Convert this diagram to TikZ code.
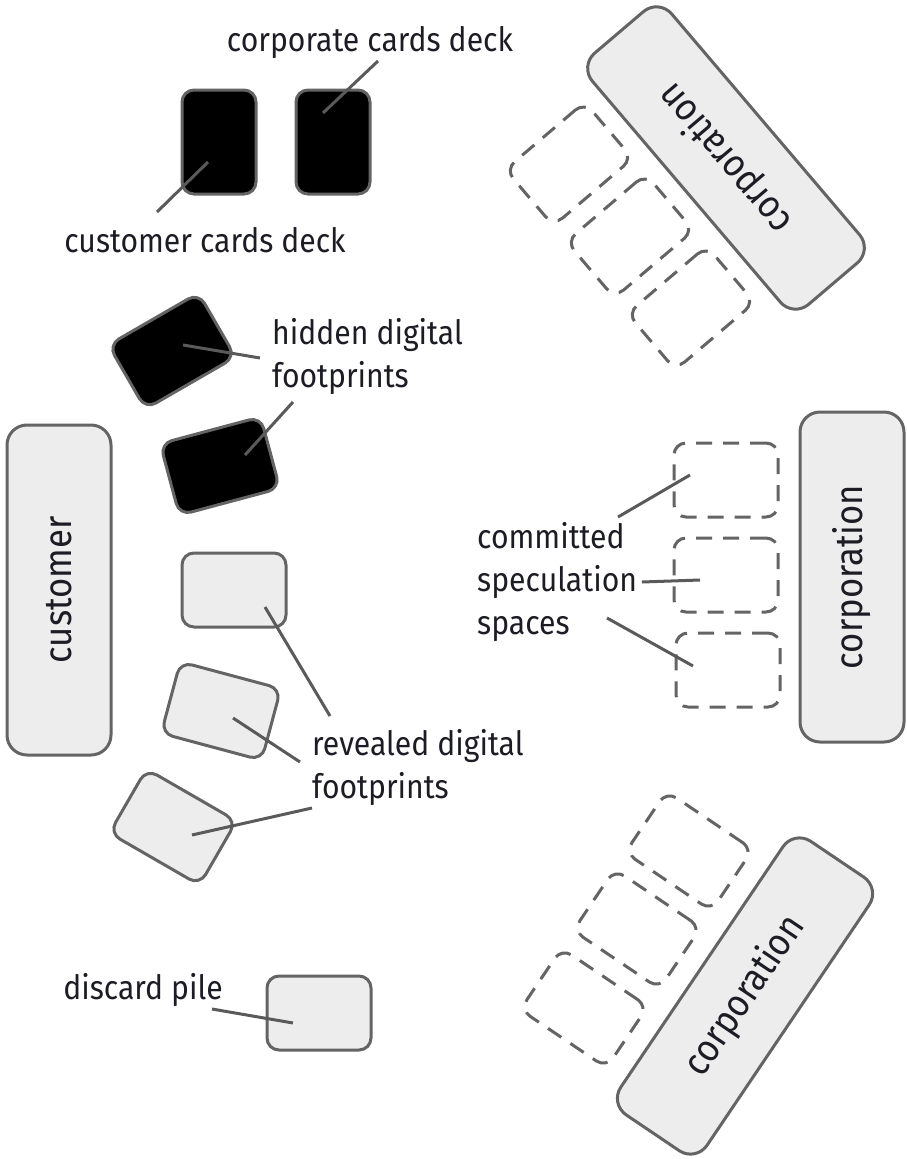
\documentclass[tikz,border=0pt]{standalone}
\usepackage{fontspec}
\setmainfont{Fira Sans}[FakeStretch=0.9]
\usetikzlibrary{calc}
\definecolor{edge}{HTML}{646464}
\definecolor{panel}{HTML}{EDEDED}
\definecolor{ink}{HTML}{1C1C24}
\definecolor{leadc}{HTML}{5A5A5A}
\begin{document}
\begin{tikzpicture}[x=1pt,y=-1pt,
  font=\fontsize{33.5}{43}\selectfont, text=ink,
  player/.style={draw=edge, fill=panel, line width=3pt, rounded corners=20pt,
    minimum width=330pt, minimum height=104pt, inner sep=0pt,
    font=\fontsize{38.5}{46}\selectfont},
  cardbase/.style={line width=3pt, rounded corners=12pt,
    minimum width=104pt, minimum height=74pt, inner sep=0pt},
  facedown/.style={cardbase, draw=edge, fill=black},
  faceup/.style={cardbase, draw=edge, fill=panel},
  slot/.style={cardbase, draw=edge, dash pattern=on 16pt off 11pt},
  leader/.style={draw=leadc, line width=3pt},
  caption/.style={inner sep=0pt, align=left}]
\useasboundingbox (0,0) rectangle (907,1159);

% players
\node[player, rotate=90] (customer) at (59,590) {customer};
\node[player, rotate=130.4] (corpA) at (726,158) {corporation};
\node[player, rotate=90] (corpB) at (852,577) {corporation};
\node[player, rotate=56] (corpC) at (745,996) {corporation};

% draw decks
\node[facedown, rotate=90] (custdeck) at (219,142) {};
\node[facedown, rotate=90] (corpdeck) at (333,142) {};

% customer's footprints, laid out on an arc
\node[facedown, rotate=30] (hid1) at (172,351) {};
\node[facedown, rotate=15] (hid2) at (220,466) {};
\node[faceup] (rev1) at (234,590) {};
\node[faceup, rotate=-15] (rev2) at (221,711) {};
\node[faceup, rotate=-30] (rev3) at (173,827) {};

% discard pile
\node[faceup] (discard) at (319,1013) {};

% speculation spaces of each corporation
\node[slot, rotate=40.4] (sA1) at (569,164) {};
\node[slot, rotate=40.4] (sA2) at (630,236) {};
\node[slot, rotate=40.4] (sA3) at (691,308) {};
\node[slot] (sB1) at (726,480) {};
\node[slot] (sB2) at (726,575) {};
\node[slot] (sB3) at (728,670) {};
\node[slot, rotate=-34] (sC1) at (689,851) {};
\node[slot, rotate=-34] (sC2) at (637,929) {};
\node[slot, rotate=-34] (sC3) at (584,1008) {};

% captions
\node[caption] (lcorpdeck) at (370,43) {corporate cards deck};
\node[caption] (lcustdeck) at (205,240) {customer cards deck};
\node[caption, anchor=west] (lhidden) at (272,356) {hidden digital\\footprints};
\node[caption, anchor=west] (lrevealed) at (312,767) {revealed digital\\footprints};
\node[caption, anchor=west] (lspaces) at (477,582) {committed\\speculation\\spaces};
\node[caption] (ldiscard) at (143,990) {discard pile};

% leader ends on the caption side
\coordinate (pcorpdeck) at (378,61);
\coordinate (pcustdeck) at (157,212);
\coordinate (phid1) at (260,358);
\coordinate (phid2) at (293,402);
\coordinate (prev1) at (330,716);
\coordinate (prev2) at (300,762);
\coordinate (prev3) at (312,808);
\coordinate (pdiscard) at (212,1009);
\coordinate (psB1) at (618,517);
\coordinate (psB2) at (642,582);
\coordinate (psB3) at (607,618);

% leaders
\draw[leader] (pcorpdeck) -- ($(corpdeck.center)+(-10,-29)$);
\draw[leader] (pcustdeck) -- ($(custdeck.center)+(-11,20)$);
\draw[leader] (phid1) -- ($(hid1.center)+(11,-6)$);
\draw[leader] (phid2) -- ($(hid2.center)+(25,-11)$);
\draw[leader] (prev1) -- ($(rev1.center)+(31,17)$);
\draw[leader] (prev2) -- ($(rev2.center)+(12,7)$);
\draw[leader] (prev3) -- ($(rev3.center)+(19,8)$);
\draw[leader] (pdiscard) -- ($(discard.center)+(-26,10)$);
\draw[leader] (psB1) -- ($(sB1.center)+(-36,-5)$);
\draw[leader] (psB2) -- ($(sB2.center)+(-26,5)$);
\draw[leader] (psB3) -- ($(sB3.center)+(-35,-4)$);
\end{tikzpicture}
\end{document}
